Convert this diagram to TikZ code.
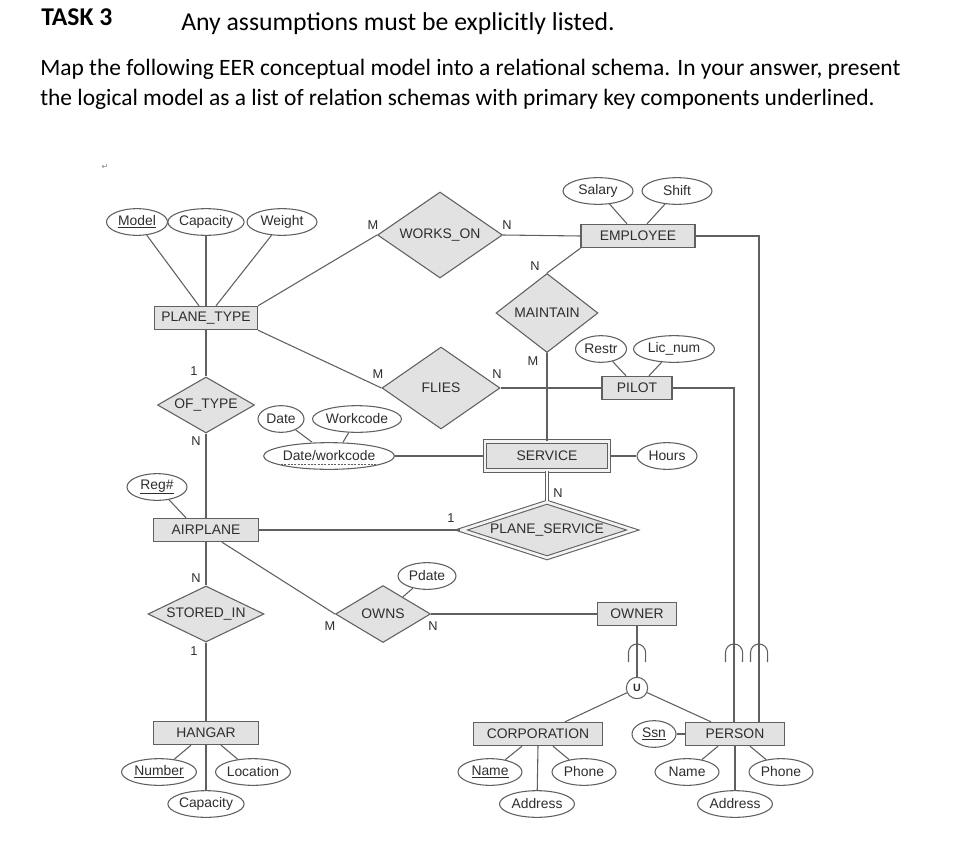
\documentclass[tikz,border=0pt]{standalone}
\usepackage{fontspec}
\setmainfont{Liberation Sans}
\newfontfamily\calibri{Carlito}
\newfontfamily\symfont{DejaVu Sans}
\usetikzlibrary{shapes.geometric,calc}
\definecolor{linec}{HTML}{606060}
\definecolor{boxc}{HTML}{E2E2E2}
\definecolor{txtc}{HTML}{2E2E2E}

\begin{document}
\begin{tikzpicture}[x=0.75pt,y=-0.75pt,
  every node/.style={font=\fontsize{10.4}{12}\selectfont, text=txtc},
  conn/.style={draw=linec, line width=0.8pt},
  ent/.style={rectangle, draw=linec, fill=boxc, line width=0.8pt, inner sep=0pt, minimum height=17.5pt, minimum width=#1*0.75pt},
  rel/.style n args={3}{diamond, draw=linec, fill=boxc, line width=0.8pt, inner sep=0pt, aspect=#3, minimum width=#1*0.75pt, minimum height=#2*0.75pt},
  attr/.style={ellipse, draw=linec, fill=white, line width=0.8pt, inner sep=0pt, minimum height=20pt, minimum width=#1*0.75pt},
  card/.style={font=\fontsize{9.6}{10}\selectfont, inner sep=0pt},
  head/.style={anchor=base west, inner sep=0pt, text=black},
]
\fill[white] (0,0) rectangle (977,842);
\useasboundingbox (0,0) rectangle (977,842);

% task text
\node[head, font=\calibri\bfseries\fontsize{19.2}{23}\selectfont] (task) at (41,26) {TASK 3};
\node[head, font=\calibri\fontsize{19.3}{23}\selectfont] (assume) at (181,31) {Any assumptions must be explicitly listed.};
\node[head, font=\calibri\fontsize{17.6}{21}\selectfont] (intro1) at (40,75) {Map the following EER conceptual model into a relational schema. In your answer, present};
\node[head, font=\calibri\fontsize{17.6}{21}\selectfont] (intro2) at (40,105) {the logical model as a list of relation schemas with primary key components underlined.};
\node[font=\symfont\fontsize{6}{7}\selectfont, text=gray] (mark) at (105,167) {↵};

% entities
\node[ent=114] (emp) at (638,236) {EMPLOYEE};
\node[ent=103] (ptype) at (206,318) {PLANE\_TYPE};
\node[ent=70] (pilot) at (637,388) {PILOT};
\node[ent=124, minimum height=21.75pt, double=boxc!40!white, double distance=2pt] (serv) at (547,456) {SERVICE};
\node[ent=105] (airplane) at (206,530) {AIRPLANE};
\node[ent=105] (hangar) at (206,733) {HANGAR};
\node[ent=79] (owner) at (637,614) {OWNER};
\node[ent=129] (corp) at (538,734) {CORPORATION};
\node[ent=99] (person) at (735,734) {PERSON};

% relationships
\node[rel={125}{86}{1.45}] (works) at (440,235) {WORKS\_ON};
\node[rel={102}{79}{1.29}] (maint) at (547,313) {MAINTAIN};
\node[rel={118}{82}{1.44}] (flies) at (441,388) {FLIES};
\node[rel={97}{56}{1.73}] (oftype) at (206,405) {OF\_TYPE};
\node[rel={172}{56}{3.07}, double=boxc!40!white, double distance=2pt] (pserv) at (547,530) {PLANE\_SERVICE};
\node[rel={116}{56}{2.07}] (stored) at (206,614) {STORED\_IN};
\node[rel={95}{57}{1.67}] (owns) at (383,614) {OWNS};

% attributes
\node[attr=61] (model) at (137,222) {\underline{Model}};
\node[attr=75] (ptcap) at (206,222) {Capacity};
\node[attr=70] (weight) at (282,222) {Weight};
\node[attr=70] (salary) at (598,191) {Salary};
\node[attr=70] (shift) at (677,191) {Shift};
\node[attr=51] (restr) at (601,349) {Restr};
\node[attr=81] (licnum) at (674,349) {Lic\_num};
\node[attr=60] (hours) at (667,456) {Hours};
\node[attr=46] (date) at (281,419) {Date};
\node[attr=89] (wcode) at (357,419) {Workcode};
\node[attr=129] (dwcode) at (329,456) {Date/workcode};
\node[attr=60] (reg) at (157,487) {\underline{Reg\#}};
\node[attr=58] (pdate) at (427,576) {Pdate};
\node[attr=75] (hnum) at (159,772) {\underline{Number}};
\node[attr=75] (hloc) at (253,772) {Location};
\node[attr=75] (hcap) at (206,804) {Capacity};
\node[attr=64] (cname) at (490,772) {\underline{Name}};
\node[attr=64] (cphone) at (584,772) {Phone};
\node[attr=75] (caddr) at (537,804) {Address};
\node[attr=44] (ssn) at (654,734) {\underline{Ssn}};
\node[attr=64] (pname) at (687,772) {Name};
\node[attr=64] (pphone) at (781,772) {Phone};
\node[attr=75] (paddr) at (735,804) {Address};
\draw[linec, line width=0.5pt, dash pattern=on 1.5pt off 1pt] ($(dwcode.base)+(-48,3)$) -- ($(dwcode.base)+(48,3)$);

% union circle
\node[circle, draw=linec, fill=white, line width=0.8pt, inner sep=0pt, minimum size=16pt, font=\bfseries\fontsize{8}{9}\selectfont] (uni) at (637,688) {U};

% connectors
\draw[conn] (model) -- ($(ptype.north)+(-7,0)$);
\draw[conn] (ptcap) -- (ptype.north);
\draw[conn] (weight) -- ($(ptype.north)+(10,0)$);
\draw[conn] (ptype.north east) -- (works.west);
\draw[conn] (works.east) -- (emp.west);
\draw[conn] (salary) -- ($(emp.north)+(-11,0)$);
\draw[conn] (shift) -- ($(emp.north)+(9,0)$);
\draw[conn] (emp.south west) -- (maint.north);
\draw[conn] (maint.south) -- (serv.north);
\draw[conn] (ptype.south east) -- (flies.west);
\draw[conn] (flies.east) -- (pilot.west);
\draw[conn] (restr) -- ($(pilot.north)+(-11,0)$);
\draw[conn] (licnum) -- ($(pilot.north)+(12,0)$);
\draw[conn] (pilot.east) -| ($(person.north)+(-1,0)$);
\draw[conn] (emp.east) -| ($(person.north)+(24,0)$);
\draw[conn] (ptype.south) -- (oftype.north);
\draw[conn] (oftype.south) -- (airplane.north);
\draw[conn] (reg) -- ($(airplane.north)+(-20,0)$);
\draw[conn] (airplane.east) -- (pserv.west);
\draw[conn] (airplane.south) -- (stored.north);
\draw[conn] (stored.south) -- (hangar.north);
\draw[conn] ($(airplane.south)+(16,0)$) -- (owns.west);
\draw[conn] (owns.east) -- (owner.west);
\draw[conn] (pdate) -- (owns);
\draw[conn] (dwcode) -- (serv.west);
\draw[conn] (date) -- ($(dwcode.north)+(-17,0)$);
\draw[conn] (wcode) -- ($(dwcode.north)+(14,0)$);
\draw[conn] (serv.east) -- (hours);
\draw[conn, double=white, double distance=1.5pt] (serv.south) -- (pserv.north);
\draw[conn] (owner.south) -- (uni.north);
\draw[conn] (uni) -- ($(corp.north)+(27,0)$);
\draw[conn] (uni) -- ($(person.north)+(-24,0)$);
\draw[conn] (ssn) -- (person.west);
\draw[conn] ($(hangar.south)+(-15,0)$) -- (hnum);
\draw[conn] ($(hangar.south)+(15,0)$) -- (hloc);
\draw[conn] (hangar.south) -- (hcap);
\draw[conn] ($(corp.south)+(-16,0)$) -- (cname);
\draw[conn] ($(corp.south)+(15,0)$) -- (cphone);
\draw[conn] (corp.south) -- (caddr);
\draw[conn] ($(person.south)+(-17,0)$) -- (pname);
\draw[conn] ($(person.south)+(15,0)$) -- (pphone);
\draw[conn] (person.south) -- (paddr);

% subset marks
\foreach \xx in {637,734,759}
  \draw[conn] (\xx-8.5,662) -- (\xx-8.5,652.5) arc[start angle=180, end angle=0, radius=6.4pt] -- (\xx+8.5,662);

% cardinalities
\node[card] (m1) at (373,225) {M};
\node[card] (n1) at (507,225) {N};
\node[card] (n2) at (535,266) {N};
\node[card] (m2) at (533,361) {M};
\node[card] (m3) at (378,374) {M};
\node[card] (n3) at (497,374) {N};
\node[card] (o1) at (194,371) {1};
\node[card] (n4) at (196,441) {N};
\node[card] (o2) at (451,518) {1};
\node[card] (n5) at (558,493) {N};
\node[card] (n6) at (196,578) {N};
\node[card] (o3) at (194,651) {1};
\node[card] (m4) at (330,626) {M};
\node[card] (n7) at (433,626) {N};
\end{tikzpicture}
\end{document}
